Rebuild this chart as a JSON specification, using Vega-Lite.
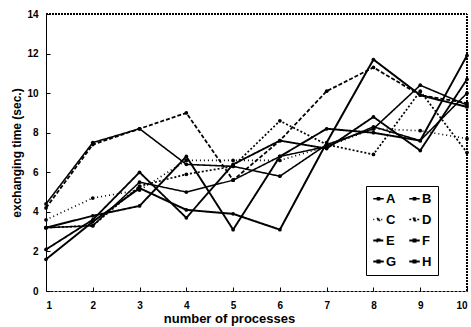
{
  "$schema": "https://vega.github.io/schema/vega-lite/v6.json",
  "width": 421,
  "height": 277,
  "autosize": {"type": "none"},
  "padding": {"left": 46, "top": 14, "right": 4, "bottom": 36},
  "background": "white",
  "config": {
    "view": {"stroke": null},
    "font": "Liberation Sans"
  },
  "data": {"name": "d"},
  "datasets": {
    "d": [
      {"series": "A", "p": 1, "t": 3.2}, {"series": "A", "p": 2, "t": 3.3}, {"series": "A", "p": 3, "t": 5.5}, {"series": "A", "p": 4, "t": 5.0}, {"series": "A", "p": 5, "t": 5.6}, {"series": "A", "p": 6, "t": 6.8}, {"series": "A", "p": 7, "t": 7.3}, {"series": "A", "p": 8, "t": 8.3}, {"series": "A", "p": 9, "t": 7.6}, {"series": "A", "p": 10, "t": 10.0},
      {"series": "B", "p": 1, "t": 4.4}, {"series": "B", "p": 2, "t": 7.5}, {"series": "B", "p": 3, "t": 8.2}, {"series": "B", "p": 4, "t": 6.4}, {"series": "B", "p": 5, "t": 6.3}, {"series": "B", "p": 6, "t": 5.8}, {"series": "B", "p": 7, "t": 7.4}, {"series": "B", "p": 8, "t": 8.2}, {"series": "B", "p": 9, "t": 10.4}, {"series": "B", "p": 10, "t": 9.4},
      {"series": "C", "p": 1, "t": 3.6}, {"series": "C", "p": 2, "t": 4.7}, {"series": "C", "p": 3, "t": 5.1}, {"series": "C", "p": 4, "t": 6.6}, {"series": "C", "p": 5, "t": 6.6}, {"series": "C", "p": 6, "t": 6.6}, {"series": "C", "p": 7, "t": 7.3}, {"series": "C", "p": 8, "t": 8.2}, {"series": "C", "p": 9, "t": 8.1}, {"series": "C", "p": 10, "t": 7.7},
      {"series": "D", "p": 1, "t": 3.2}, {"series": "D", "p": 2, "t": 3.3}, {"series": "D", "p": 3, "t": 5.3}, {"series": "D", "p": 4, "t": 5.9}, {"series": "D", "p": 5, "t": 6.3}, {"series": "D", "p": 6, "t": 8.6}, {"series": "D", "p": 7, "t": 7.4}, {"series": "D", "p": 8, "t": 6.9}, {"series": "D", "p": 9, "t": 10.1}, {"series": "D", "p": 10, "t": 7.0},
      {"series": "E", "p": 1, "t": 4.2}, {"series": "E", "p": 2, "t": 7.4}, {"series": "E", "p": 3, "t": 8.2}, {"series": "E", "p": 4, "t": 9.0}, {"series": "E", "p": 5, "t": 5.6}, {"series": "E", "p": 6, "t": 7.6}, {"series": "E", "p": 7, "t": 10.1}, {"series": "E", "p": 8, "t": 11.3}, {"series": "E", "p": 9, "t": 9.9}, {"series": "E", "p": 10, "t": 9.5},
      {"series": "F", "p": 1, "t": 2.1}, {"series": "F", "p": 2, "t": 3.6}, {"series": "F", "p": 3, "t": 6.0}, {"series": "F", "p": 4, "t": 3.7}, {"series": "F", "p": 5, "t": 6.4}, {"series": "F", "p": 6, "t": 7.6}, {"series": "F", "p": 7, "t": 7.2}, {"series": "F", "p": 8, "t": 8.8}, {"series": "F", "p": 9, "t": 7.1}, {"series": "F", "p": 10, "t": 10.7},
      {"series": "G", "p": 1, "t": 3.2}, {"series": "G", "p": 2, "t": 3.8}, {"series": "G", "p": 3, "t": 4.3}, {"series": "G", "p": 4, "t": 6.8}, {"series": "G", "p": 5, "t": 3.1}, {"series": "G", "p": 6, "t": 6.8}, {"series": "G", "p": 7, "t": 8.2}, {"series": "G", "p": 8, "t": 8.0}, {"series": "G", "p": 9, "t": 7.6}, {"series": "G", "p": 10, "t": 11.9},
      {"series": "H", "p": 1, "t": 1.6}, {"series": "H", "p": 2, "t": 3.5}, {"series": "H", "p": 3, "t": 5.2}, {"series": "H", "p": 4, "t": 4.1}, {"series": "H", "p": 5, "t": 3.9}, {"series": "H", "p": 6, "t": 3.1}, {"series": "H", "p": 7, "t": 7.5}, {"series": "H", "p": 8, "t": 11.7}, {"series": "H", "p": 9, "t": 9.9}, {"series": "H", "p": 10, "t": 9.3}
    ]
  },
  "encoding": {
    "x": {
      "field": "p", "type": "quantitative",
      "scale": {"domain": [1, 10], "nice": false, "zero": false},
      "axis": {
        "title": "number of processes", "values": [1, 2, 3, 4, 5, 6, 7, 8, 9, 10],
        "grid": false, "tickSize": -4, "labelPadding": 13, "domainDash": [3, 1],
        "domainColor": "black", "tickColor": "black", "labelColor": "black", "labelOverlap": false,
        "labelFontWeight": "bold", "labelFontSize": 10, "titleFontSize": 13, "titleFontWeight": "bold",
        "titleColor": "black", "titlePadding": 2, "titleX": 183, "titleAlign": "center",
        "labelFont": "Liberation Sans", "titleFont": "Liberation Sans"
      }
    },
    "y": {
      "field": "t", "type": "quantitative",
      "scale": {"domain": [0, 14], "nice": false},
      "axis": {
        "title": "exchanging time (sec.)", "values": [0, 2, 4, 6, 8, 10, 12, 14],
        "grid": false, "tickSize": -4, "labelPadding": 12, "labelOverlap": false,
        "domainColor": "black", "tickColor": "black", "labelColor": "black",
        "labelFontWeight": "bold", "labelFontSize": 10, "titleFontSize": 12, "titleFontWeight": "bold",
        "titleColor": "black", "titlePadding": 3, "labelFont": "Liberation Sans", "titleFont": "Liberation Sans"
      }
    }
  },
  "layer": [
    {
      "mark": {"type": "line", "color": "black"},
      "encoding": {
        "detail": {"field": "series"},
        "strokeDash": {
          "field": "series", "type": "nominal",
          "scale": {"domain": ["A", "B", "C", "D", "E", "F", "G", "H"], "range": [[1, 0], [1, 0], [1, 3], [2, 2], [4, 2], [1, 0], [1, 0], [1, 0]]},
          "legend": {
            "title": null, "orient": "none", "legendX": 320, "legendY": 172, "columns": 2, "direction": "horizontal",
            "strokeColor": "black", "padding": 6, "fillColor": "white",
            "labelFontWeight": "bold", "labelFontSize": 13, "labelColor": "black", "labelFont": "Liberation Sans",
            "symbolType": "M-1,0H1M-0.2,-0.2H0.2V0.2H-0.2Z",
            "symbolStrokeColor": "black", "symbolFillColor": "black", "symbolSize": 110, "symbolStrokeWidth": 1.5,
            "rowPadding": 7, "columnPadding": 8, "labelOffset": 1
          }
        },
        "strokeWidth": {
          "field": "series", "type": "nominal",
          "scale": {"domain": ["A", "B", "C", "D", "E", "F", "G", "H"], "range": [1.5, 2, 1, 1, 1.3, 1.5, 1.5, 2]},
          "legend": null
        }
      }
    },
    {
      "mark": {"type": "point", "filled": true, "color": "black", "size": 14, "shape": "circle"},
      "encoding": {
        "opacity": {
          "field": "series", "type": "nominal",
          "scale": {"domain": ["A", "B", "C", "D", "E", "F", "G", "H"], "range": [1, 1, 0.3, 1, 1, 1, 1, 0]},
          "legend": null
        }
      }
    },
    {
      "mark": {"type": "rule", "color": "black", "strokeDash": [2, 1], "strokeWidth": 1},
      "encoding": {
        "x": {"datum": 1, "type": "quantitative"},
        "x2": {"datum": 10},
        "y": {"datum": 14, "type": "quantitative"}
      }
    },
    {
      "mark": {"type": "rule", "color": "black", "strokeDash": [2, 1], "strokeWidth": 1.2},
      "encoding": {
        "x": {"datum": 10, "type": "quantitative"},
        "y": {"datum": 0, "type": "quantitative"},
        "y2": {"datum": 14}
      }
    }
  ]
}
